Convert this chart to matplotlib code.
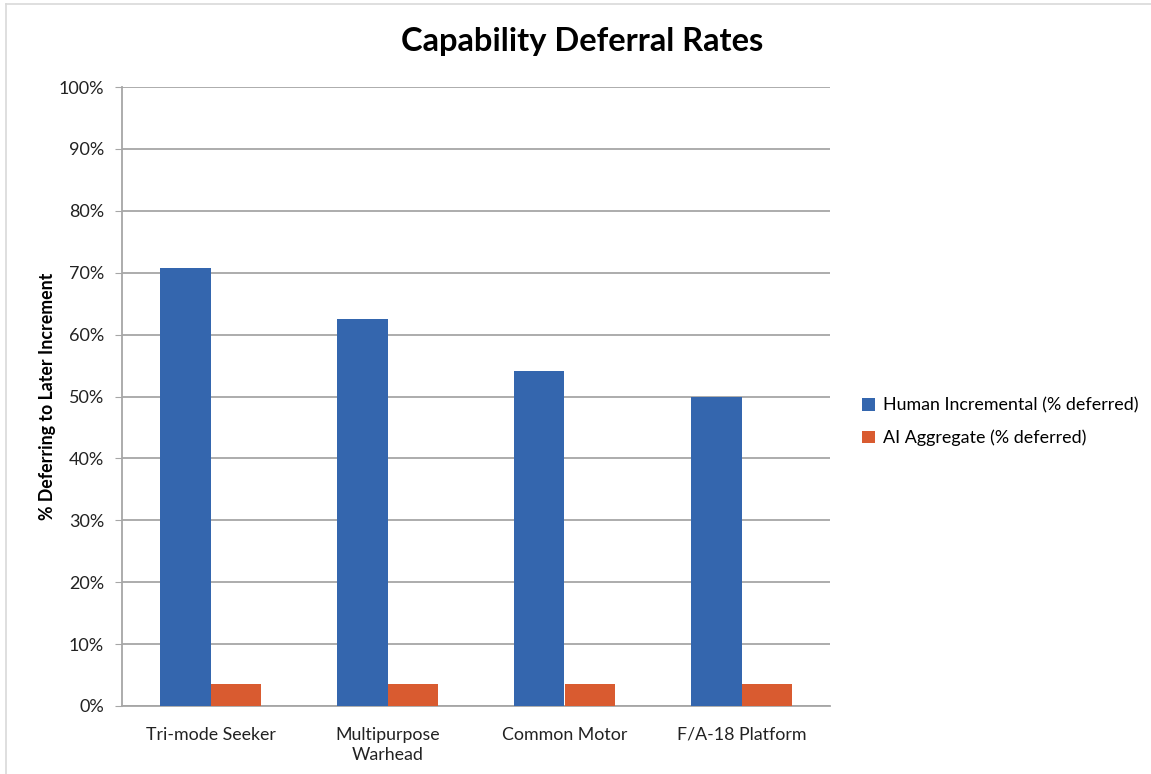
import numpy as np
import matplotlib
matplotlib.use("Agg")
import matplotlib.pyplot as plt
from matplotlib.patches import Patch
from matplotlib.lines import Line2D

plt.rcParams['font.family'] = ['Lato', 'DejaVu Sans']

categories = ['Tri-mode Seeker', 'Multipurpose\nWarhead', 'Common Motor', 'F/A-18 Platform']
human = [70.8, 62.5, 54.2, 50.0]
ai = [3.6, 3.6, 3.6, 3.6]
series_names = ['Human Incremental (% deferred)', 'AI Aggregate (% deferred)']
colors = ['#3466AE', '#D95B30']

fig = plt.figure(figsize=(11.51, 7.74), dpi=100)
ax = fig.add_axes([122/1151, 1-706/774, (830-122)/1151, (706-87)/774])

x = np.arange(len(categories))
w = 0.285
ax.bar(x - w/2, human, w, color=colors[0], zorder=3)
ax.bar(x + w/2, ai, w, color=colors[1], zorder=3)

ax.set_xlim(-0.5, len(categories) - 0.5)
ax.set_ylim(0, 100)
ax.set_yticks(range(0, 101, 10))
ax.set_yticklabels([f'{v}%' for v in range(0, 101, 10)], fontsize=13, color='#222222')
ax.set_xticks(x)
ax.set_xticklabels(categories, fontsize=12.8, color='#222222', linespacing=1.3)
ax.tick_params(axis='y', length=5, color='#A6A6A6', pad=8)
ax.tick_params(axis='x', length=0, pad=15)
ax.grid(axis='y', color='#A6A6A6', linewidth=1.3, zorder=0)
for s in ['top', 'right']:
    ax.spines[s].set_visible(False)
for s in ['left', 'bottom']:
    ax.spines[s].set_color('#A6A6A6')
    ax.spines[s].set_linewidth(1.3)

ax.set_ylabel('% Deferring to Later Increment', fontsize=12.8, fontweight='bold', labelpad=2)
fig.text(582/1151, 1-42/774, 'Capability Deferral Rates', fontsize=23.5, fontweight='bold',
         ha='center', va='center')

handles = [Patch(facecolor=c, edgecolor='none') for c in colors]
fig.legend(handles, series_names, loc='center left', bbox_to_anchor=(846/1151, 1-422/774),
           frameon=False, fontsize=12.9, handlelength=0.7, handleheight=0.7,
           handletextpad=0.45, labelspacing=0.9)

# light frame of the chart area
fig.add_artist(Line2D([6/1151, 6/1151], [0, 1-4/774], transform=fig.transFigure,
                      color='#D9D9D9', linewidth=1.2))
fig.add_artist(Line2D([6/1151, 1], [1-4/774, 1-4/774], transform=fig.transFigure,
                      color='#D9D9D9', linewidth=1.2))

fig.savefig('out.png', dpi=100, facecolor='white')
